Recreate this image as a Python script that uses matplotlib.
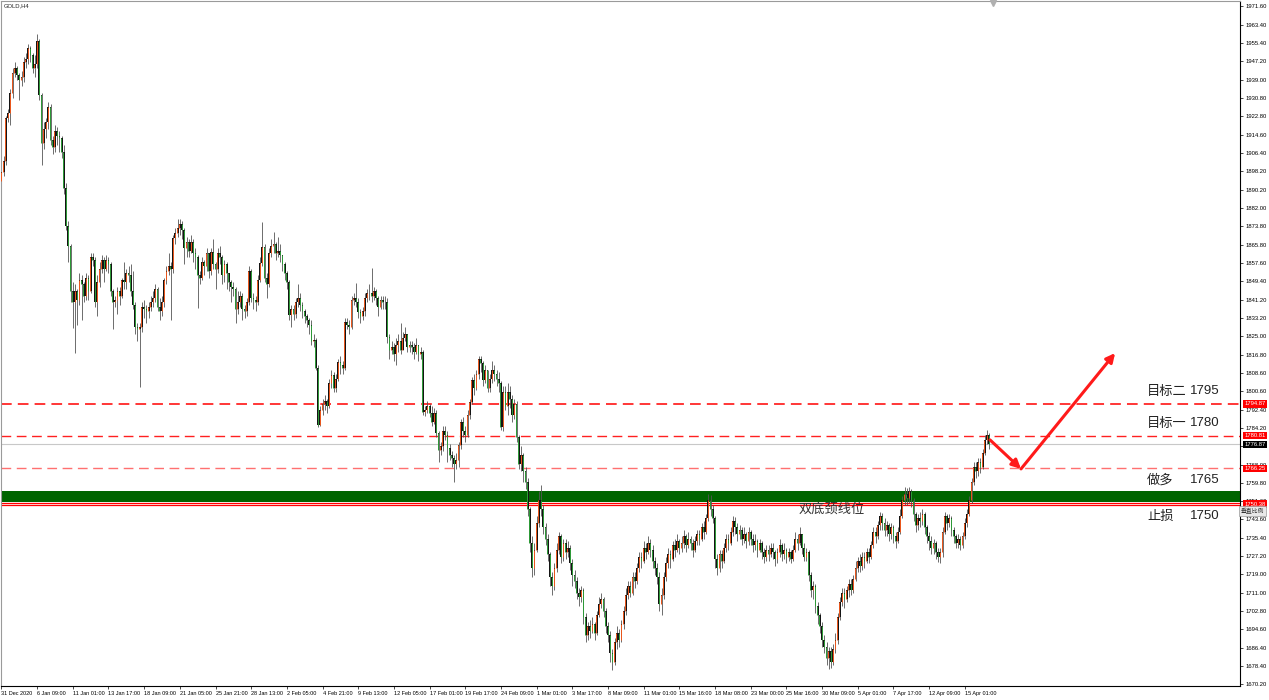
import numpy as np
import matplotlib
matplotlib.use("Agg")
import matplotlib.pyplot as plt
from matplotlib.transforms import blended_transform_factory

# ---- GOLD H4 candles ----
first_open = 1894.0

closes = [
    # 31 Dec - 8 Jan
    1898, 1903, 1922, 1924, 1933, 1942, 1944, 1941, 1939, 1940,
    1947, 1948, 1953, 1950, 1944, 1946, 1956, 1932, 1911, 1917,
    1920, 1927, 1912, 1909, 1916, 1914, 1913, 1907, 1891, 1874,
    1865, 1845, 1840, 1845, 1841, 1850, 1848, 1843, 1851, 1845,
    1860, 1859, 1840, 1849, 1855,
    # mid Jan
    1859, 1855, 1859, 1857, 1845, 1840, 1841, 1845, 1843, 1850,
    1849, 1853, 1852, 1845, 1839, 1829, 1828, 1829, 1838, 1837,
    1836, 1838, 1840, 1842, 1846, 1838, 1836, 1840, 1850, 1854,
    1856, 1855, 1868.7, 1871, 1873, 1875, 1872, 1864, 1867, 1863,
    1867, 1862, 1860, 1852, 1851,
    # late Jan - early Feb
    1858, 1856, 1862, 1854, 1862.5, 1857, 1855, 1862, 1860, 1852,
    1857, 1853, 1849, 1847, 1846, 1837, 1840, 1843, 1837, 1836,
    1840, 1854, 1842, 1841, 1840, 1850, 1857.5, 1864.5, 1851, 1848,
    1862, 1865, 1866, 1862, 1863, 1861, 1857, 1853, 1849, 1834.5,
    1837, 1835, 1840, 1842, 1839, 1836, 1834, 1832, 1830, 1823,
    # Feb
    1823.5, 1811, 1785.5, 1792, 1795, 1796, 1794, 1804, 1807.8, 1802,
    1806, 1813.5, 1812, 1811, 1831.3, 1830, 1829, 1841, 1842, 1840,
    1835.7, 1834, 1836, 1842, 1844, 1844, 1843, 1845, 1842, 1838,
    1841, 1840, 1840, 1824.6, 1819, 1820, 1817, 1821, 1823, 1819,
    1824, 1826, 1820, 1821,
    1820, 1818, 1821, 1817, 1818,
    1791.3, 1792, 1794, 1791, 1787, 1791, 1782, 1774.5, 1776, 1783,
    1781, 1775.3, 1772, 1771, 1768, 1770, 1776.6, 1786.9, 1783, 1781,
    1790, 1795.8, 1805.5, 1802, 1808, 1815, 1813, 1805.5, 1810, 1802,
    1806, 1810, 1808, 1806, 1804, 1784.6, 1800, 1794, 1800, 1797,
    # late Feb - Apr
    1790, 1795, 1780, 1768, 1772, 1765, 1760, 1748, 1733, 1722,
    1730, 1742, 1752, 1748, 1740, 1735, 1728, 1718, 1714, 1722,
    1730, 1736, 1727, 1733, 1729, 1731, 1724, 1719, 1716, 1711,
    1709, 1712, 1700, 1692, 1696, 1694, 1697, 1693, 1701, 1706,
    1708, 1703, 1696, 1692, 1684, 1680, 1689, 1693, 1690, 1697,
    1703, 1710, 1714, 1711, 1718, 1716, 1722, 1727, 1725, 1731,
    1729, 1733, 1730, 1725, 1722, 1718, 1706, 1710, 1718, 1724,
    1728, 1726, 1732, 1730, 1734, 1731, 1733, 1736, 1732, 1735,
    1733, 1730, 1734, 1737, 1735, 1740, 1738, 1744, 1752, 1748,
    1744, 1726, 1722, 1728, 1725, 1731, 1735, 1733, 1738, 1743,
    1740, 1737, 1739, 1735, 1737, 1734, 1738, 1735, 1732, 1734,
    1730, 1733, 1729, 1727, 1730, 1728, 1731, 1729, 1726, 1729,
    1732, 1728, 1730, 1727, 1729, 1726, 1730, 1735, 1733, 1737,
    1731, 1727, 1729, 1719, 1712, 1714, 1705, 1701, 1696, 1690,
    1687, 1682, 1685, 1680, 1686, 1690, 1700, 1707, 1711, 1708,
    1712, 1715, 1712, 1717, 1722, 1725, 1723, 1727, 1725, 1729,
    1727, 1732, 1738, 1736, 1741, 1745, 1742, 1739, 1741, 1737,
    1740, 1736, 1734, 1738, 1745, 1752, 1755, 1753, 1756, 1752,
    1746, 1741, 1744, 1743, 1746, 1740, 1736, 1734, 1731, 1733,
    1729, 1727, 1729, 1738, 1745, 1742, 1744, 1739, 1736, 1733,
    1735, 1732, 1736, 1742, 1746, 1752, 1760, 1767, 1765, 1769,
    1767, 1773, 1779, 1781, 1776.87,
]

highs = [
    1902, 1905, 1923, 1926, 1935, 1944, 1947, 1945, 1942, 1943,
    1949, 1951, 1955, 1954, 1951, 1950, 1959.5, 1957, 1933, 1920,
    1922, 1929, 1928, 1914, 1919, 1918, 1916, 1914, 1910, 1893,
    1876, 1866, 1849, 1848, 1846, 1853, 1852, 1849, 1853, 1852,
    1862, 1862, 1860, 1852, 1858,
    1861, 1860, 1861, 1860, 1858, 1846, 1843, 1847, 1847, 1851,
    1858, 1855, 1856, 1857, 1854, 1840, 1831, 1831, 1840, 1841,
    1839, 1840, 1843, 1845, 1848, 1847, 1842, 1843, 1851, 1856,
    1862, 1858, 1870, 1873, 1877, 1877, 1876, 1873, 1869, 1868,
    1870, 1868, 1864, 1861, 1854,
    1860, 1859, 1864, 1862, 1864, 1868, 1858, 1864, 1865, 1861,
    1859, 1858, 1852, 1850, 1849, 1847, 1845, 1845, 1844, 1839,
    1842, 1856, 1855, 1844, 1843, 1852, 1860, 1875.7, 1866, 1853,
    1864, 1868, 1871.3, 1867, 1869, 1866, 1861, 1858, 1854, 1850,
    1839, 1839, 1842, 1848, 1844, 1840, 1837, 1835, 1833, 1832,
    1826, 1824, 1812, 1794, 1797, 1799, 1797, 1806, 1810, 1809,
    1808, 1815, 1816, 1814, 1833, 1833, 1832, 1843, 1844, 1848.6,
    1842, 1837, 1838, 1844, 1846, 1848, 1855.3, 1847, 1846, 1843,
    1843, 1843, 1843, 1842, 1826, 1823, 1822, 1824, 1826, 1831,
    1827, 1829, 1826, 1823,
    1823, 1822, 1824, 1821, 1820,
    1819, 1794, 1796, 1795, 1794, 1793, 1792, 1783, 1778, 1785,
    1785, 1783, 1777, 1774, 1772, 1773, 1778, 1788, 1789, 1785,
    1792, 1797, 1807, 1808, 1810, 1816, 1816, 1814, 1812, 1810,
    1808, 1814, 1812, 1810, 1809, 1805, 1803, 1803, 1804, 1803,
    1799, 1797, 1796, 1781, 1776, 1773, 1767, 1762, 1749, 1736,
    1733, 1745, 1756, 1759, 1750, 1742, 1737, 1729, 1720, 1724,
    1733, 1738, 1737, 1735, 1735, 1734, 1732, 1726, 1721, 1718,
    1713, 1714, 1713, 1702, 1698, 1699, 1700, 1698, 1703, 1709,
    1711, 1709, 1704, 1698, 1694, 1686, 1691, 1696, 1695, 1699,
    1705, 1713, 1716, 1716, 1720, 1720, 1724, 1729, 1729, 1734,
    1733, 1736, 1735, 1732, 1727, 1724, 1720, 1713, 1720, 1727,
    1731, 1730, 1734, 1735, 1737, 1735, 1736, 1739, 1737, 1738,
    1736, 1735, 1736, 1739, 1739, 1742, 1743, 1746, 1755, 1754.5,
    1750, 1745, 1728, 1730, 1730, 1733, 1737, 1737, 1740, 1745,
    1744.5, 1742, 1741, 1740, 1740, 1738, 1740, 1739, 1737, 1737,
    1735, 1735, 1734, 1731, 1732, 1732, 1733, 1733, 1730, 1731,
    1735, 1733, 1733, 1731, 1731, 1730, 1732, 1738, 1737, 1740,
    1737, 1733, 1731, 1730, 1720, 1716, 1715, 1707, 1702, 1698,
    1692, 1689, 1687, 1687, 1688, 1693, 1702, 1709, 1713, 1713,
    1714, 1717, 1717, 1719, 1725, 1727, 1728, 1729, 1729, 1731,
    1731, 1734, 1740, 1740, 1743, 1747, 1746.5, 1744, 1743, 1742,
    1742, 1741, 1738, 1740, 1748, 1754, 1757.9, 1757.5, 1758, 1757,
    1753, 1747, 1746, 1747, 1748, 1747, 1741, 1738, 1736, 1735,
    1734, 1731, 1731, 1740, 1747, 1746, 1746, 1745, 1740, 1737,
    1737, 1736, 1738, 1744, 1748, 1754, 1762, 1769, 1769, 1771,
    1771, 1775, 1781, 1783.5, 1782,
]

lows = [
    1889, 1896, 1901, 1920, 1919, 1931, 1940, 1939, 1930, 1936,
    1938, 1944, 1946, 1947, 1942, 1940, 1944, 1930, 1901, 1908,
    1913, 1917, 1910, 1906, 1907, 1910, 1907, 1904, 1888, 1872,
    1858, 1840, 1828.6, 1817.5, 1830, 1839, 1832, 1840, 1841, 1841,
    1844, 1856, 1838, 1834, 1847,
    1853, 1849, 1854, 1853, 1843, 1828, 1838, 1835, 1839, 1842,
    1846, 1846, 1849, 1843, 1837, 1826, 1823, 1802.5, 1827, 1833,
    1831, 1833, 1836, 1838, 1840, 1836, 1832, 1834, 1838, 1848,
    1852, 1832, 1853, 1866, 1869, 1870, 1868, 1857, 1860, 1860,
    1862, 1858, 1855, 1837.5, 1848,
    1850, 1852, 1854, 1851, 1852, 1855, 1846, 1853, 1857, 1848,
    1849, 1846, 1845, 1840, 1843, 1831, 1835, 1838, 1832, 1833,
    1834, 1839, 1840, 1837, 1836, 1839, 1849, 1856, 1849, 1842,
    1847, 1860, 1862, 1859, 1860, 1858, 1854, 1850, 1846, 1832,
    1829, 1832, 1833, 1838, 1836, 1833, 1831, 1829, 1826, 1821,
    1820, 1810, 1784.7, 1785, 1790, 1792, 1791, 1793, 1802, 1800,
    1800, 1805, 1808, 1808, 1810, 1828, 1826, 1828, 1839, 1838,
    1833, 1831, 1832, 1834, 1840, 1841, 1840, 1841, 1839, 1834,
    1837, 1837, 1837, 1822, 1815, 1817, 1814, 1812, 1818, 1817,
    1820, 1823, 1818, 1818,
    1817, 1815, 1817, 1814, 1815,
    1790, 1789.5, 1791, 1789, 1785, 1786, 1780, 1769, 1772, 1774,
    1779, 1769, 1770, 1767, 1760.2, 1766, 1767, 1775, 1780, 1778,
    1780, 1788, 1795, 1799, 1801, 1806, 1809, 1803, 1804, 1800,
    1800, 1804, 1805, 1803, 1800, 1783.3, 1783, 1792, 1790, 1793,
    1787, 1788, 1778, 1766, 1765, 1760, 1757, 1745, 1729, 1718,
    1719, 1729, 1740, 1745, 1737, 1732, 1725, 1714, 1710, 1712,
    1720, 1728, 1724, 1725, 1726, 1727, 1721, 1714, 1713, 1708,
    1705, 1707, 1697, 1689, 1690, 1691, 1693, 1690, 1692, 1700,
    1704, 1700, 1693, 1689, 1680, 1676.5, 1679, 1686, 1687, 1689,
    1695, 1701, 1708, 1709, 1710, 1713, 1715, 1720, 1722, 1724,
    1726, 1728, 1727, 1722, 1719, 1715, 1703, 1701, 1708, 1716,
    1722, 1722, 1725, 1727, 1729, 1728, 1729, 1731, 1729, 1731,
    1730, 1727, 1729, 1732, 1732, 1734, 1735, 1737, 1743, 1745,
    1742, 1722, 1719, 1720, 1722, 1724, 1729, 1730, 1732, 1736,
    1737, 1734, 1735, 1732, 1733, 1731, 1732, 1732, 1729, 1730,
    1727, 1729, 1726, 1724, 1725, 1725, 1727, 1726, 1723, 1724,
    1727, 1725, 1726, 1724, 1725, 1724, 1725, 1729, 1730, 1732,
    1728, 1725, 1725, 1716, 1709, 1708, 1702, 1697, 1693, 1687,
    1684, 1679, 1677, 1677.5, 1679, 1684, 1688, 1699, 1705, 1704,
    1707, 1709, 1710, 1711, 1716, 1720, 1720, 1721, 1722, 1724,
    1724, 1726, 1731, 1733, 1735, 1739, 1739, 1736, 1736, 1734,
    1735, 1733, 1731, 1733, 1737, 1744, 1750, 1750, 1751, 1749,
    1743, 1738, 1739, 1740, 1741, 1737, 1733, 1730, 1728, 1728,
    1726, 1724.5, 1724, 1727, 1737, 1739, 1740, 1736, 1733, 1731,
    1731, 1730, 1731, 1735, 1740, 1745, 1751, 1759, 1762, 1763,
    1764, 1766, 1772, 1777, 1775,
]

date_labels = [
    "31 Dec 2020", "6 Jan 09:00", "11 Jan 01:00", "13 Jan 17:00",
    "18 Jan 09:00", "21 Jan 05:00", "25 Jan 21:00", "28 Jan 13:00",
    "2 Feb 05:00", "4 Feb 21:00", "9 Feb 13:00", "12 Feb 05:00",
    "17 Feb 01:00", "19 Feb 17:00", "24 Feb 09:00", "1 Mar 01:00",
    "3 Mar 17:00", "8 Mar 09:00", "11 Mar 01:00", "15 Mar 16:00",
    "18 Mar 08:00", "23 Mar 00:00", "25 Mar 16:00", "30 Mar 09:00",
    "5 Apr 01:00", "7 Apr 17:00", "12 Apr 09:00", "15 Apr 01:00",
]
bars_per_label = 16

# horizontal levels
target2_line = 1794.87
target1_line = 1780.81
last_price = 1776.87
long_line = 1766.25
stop_price = 1750.38
stop_lines = [1750.95, 1749.9]
neck_band = (1751.3, 1756.2)

# annotation texts: (name, value, y)
notes = [("目标二", "1795", 1800.6), ("目标一", "1780", 1786.4),
         ("做多", "1765", 1761.1), ("止损", "1750", 1745.1)]
neck_text = "双底颈线位"

# red arrow path (bar index, price)
arrow_x = [443.3, 457.2, 499.4]
arrow_y = [1778.9, 1766.0, 1817.5]

closes = np.array(closes, dtype=float)
highs = np.array(highs, dtype=float)
lows = np.array(lows, dtype=float)
opens = np.r_[first_open, closes[:-1]]
x = np.arange(len(closes))
hi = np.maximum(highs, np.maximum(opens, closes))
lo = np.minimum(lows, np.minimum(opens, closes))
up = closes >= opens

fig = plt.figure(figsize=(12.69, 7.0), dpi=100)
fig.patch.set_facecolor("white")
ax = fig.add_axes([1 / 1269, 14 / 700, 1239 / 1269, 685 / 700])
ax.set_facecolor("white")

ax.set_xlim(-0.2, 555.4)
ax.set_ylim(1669.5, 1974.0)

# levels
ax.axhspan(neck_band[0], neck_band[1], color="#006400", lw=0, zorder=1)
ax.axhline(target2_line, color="#ff0000", lw=1.1, ls=(0, (7, 4)), zorder=1.5)
ax.axhline(target1_line, color="#ff2020", lw=1.0, ls=(0, (7, 4)), zorder=1.5)
ax.axhline(long_line, color="#ff7070", lw=1.0, ls=(0, (7, 4)), zorder=1.5)
ax.axhline(last_price, color="#c8c8c8", lw=0.8, zorder=1.5)
for s in stop_lines:
    ax.axhline(s, color="#ff0000", lw=0.9, zorder=1.5)

# candles
ax.vlines(x, lo, hi, color="#555555", lw=0.6, zorder=2)
body_lo = np.minimum(opens, closes)
body_h = np.maximum(np.abs(closes - opens), 0.35)
ax.bar(x, body_h, bottom=body_lo, width=0.8, color="#141414", lw=0, zorder=3)
ax.vlines(x[up] - 0.22, body_lo[up], body_lo[up] + body_h[up],
          color="#f05a1e", lw=0.7, zorder=4)
ax.vlines(x[~up] - 0.22, body_lo[~up], body_lo[~up] + body_h[~up],
          color="#2f9e3a", lw=0.7, zorder=4)

# arrows
for k in range(len(arrow_x) - 1):
    ax.annotate("", xy=(arrow_x[k + 1], arrow_y[k + 1]),
                xytext=(arrow_x[k], arrow_y[k]),
                arrowprops=dict(arrowstyle="-|>", color="#ff1a1a", lw=2.2,
                                mutation_scale=13, shrinkA=0, shrinkB=0),
                zorder=6)

# text notes
cjk = ["Noto Sans CJK SC", "DejaVu Sans"]
for name, val, yy in notes:
    ax.text(513.7, yy, name, fontsize=9.5, family=cjk, color="#222222",
            va="center", ha="left", zorder=7)
    ax.text(532.8, yy, val, fontsize=9.5, family=["Liberation Sans"],
            color="#222222", va="center", ha="left", zorder=7)
ax.text(357.5, 1748.0, neck_text, fontsize=9.5, family=cjk,
        color="#333333", va="center", ha="left", zorder=7)

tick_font = ["Liberation Sans"]
ax.text(0.002, 0.996, "GOLD,H4", transform=ax.transAxes, fontsize=4.2,
        family=tick_font, va="top", ha="left", color="#222222")

# axes look
for side in ["left", "top"]:
    ax.spines[side].set_color("#9a9a9a")
    ax.spines[side].set_linewidth(0.8)
for side in ["right", "bottom"]:
    ax.spines[side].set_color("#000000")
    ax.spines[side].set_linewidth(0.8)

yt = np.linspace(1670.2, 1971.6, 38)
ax.yaxis.tick_right()
ax.set_yticks(yt)
ax.set_yticklabels([f"{round(v * 5) / 5:.2f}" for v in yt])
ax.tick_params(axis="y", direction="out", length=2.5, width=0.5,
               labelsize=4.2, pad=1.5, colors="#000000")

xt = np.arange(0, len(closes), bars_per_label)[:len(date_labels)]
ax.set_xticks(xt)
ax.set_xticklabels(date_labels)
ax.tick_params(axis="x", direction="out", length=2.5, width=0.5,
               labelsize=4.0, pad=1.0, colors="#000000")
for lbl in ax.get_xticklabels() + ax.get_yticklabels():
    lbl.set_family(tick_font)
for lbl in ax.get_xticklabels():
    lbl.set_ha("left")

# price tags on the right scale
tr = blended_transform_factory(ax.transAxes, ax.transData)
tags = [(target2_line, "#ff0000"), (target1_line, "#ff0000"),
        (last_price, "#000000"), (long_line, "#ff0000"), (stop_price, "#ff0000")]
for val, c in tags:
    ax.text(1.0035, val, f"{val:.2f}", transform=tr, fontsize=4.2,
            family=tick_font, color="white", va="center", ha="left",
            clip_on=False, zorder=8,
            bbox=dict(boxstyle="square,pad=0.2", fc=c, ec="none"))

fig.text(1252 / 1269, 1 - 511 / 700, "垂直比例", fontsize=4.2, family=cjk,
         ha="center", va="center", color="#333333",
         bbox=dict(boxstyle="square,pad=0.3", fc="#e8e8e8", ec="#9a9a9a", lw=0.5))

# chart shift marker
ax.plot([444.6], [1973.0], marker="v", color="#b0b0b0", ms=4,
        clip_on=False, zorder=8)

fig.savefig("out.png", dpi=100, facecolor="white")
